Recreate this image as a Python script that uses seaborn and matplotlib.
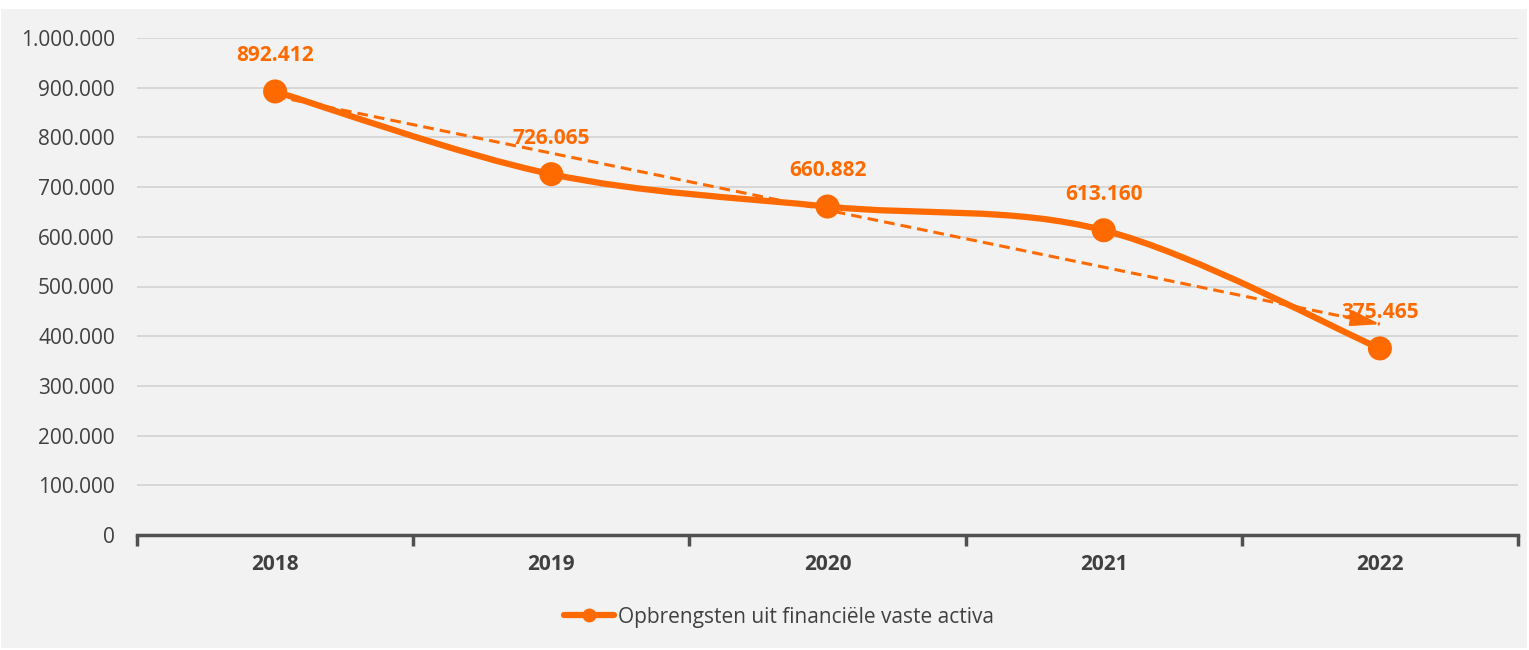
import numpy as np
import pandas as pd
import matplotlib
matplotlib.use("Agg")
import matplotlib.pyplot as plt
import seaborn as sns
from matplotlib.path import Path
from matplotlib.patches import PathPatch, Rectangle
from matplotlib.lines import Line2D
from matplotlib.ticker import FuncFormatter, FixedLocator

years = ["2018", "2019", "2020", "2021", "2022"]
values = [892412, 726065, 660882, 613160, 375465]
series_name = "Opbrengsten uit financiële vaste activa"
y_ticks = [0, 100000, 200000, 300000, 400000, 500000, 600000, 700000, 800000, 900000, 1000000]

ORANGE = "#FF6A00"
TEXT = "#404040"
GRID = "#D0D0D0"
BG = "#F2F2F2"

sns.set_theme(style="white")
plt.rcParams["font.family"] = ["Open Sans", "DejaVu Sans"]

W, H = 1529, 650
fig = plt.figure(figsize=(W / 100, H / 100), dpi=100, facecolor="white")
fig.patches.append(Rectangle((1 / W, 2 / H), (W - 3) / W, (H - 11) / H,
                             transform=fig.transFigure, facecolor=BG,
                             edgecolor="none", zorder=-10))
ax = fig.add_axes([137 / W, (H - 535) / H, (1518 - 137) / W, (535 - 38) / H])
ax.set_facecolor("none")

df = pd.DataFrame({"x": np.arange(len(years)), "y": values})

# smoothed line (Catmull-Rom as cubic Bezier path, in data coordinates)
xs = df["x"].to_numpy(dtype=float)
ys = df["y"].to_numpy(dtype=float)
verts = [(xs[0], ys[0])]
codes = [Path.MOVETO]
n = len(xs)
for i in range(n - 1):
    p0 = (xs[max(i - 1, 0)], ys[max(i - 1, 0)])
    p1 = (xs[i], ys[i])
    p2 = (xs[i + 1], ys[i + 1])
    p3 = (xs[min(i + 2, n - 1)], ys[min(i + 2, n - 1)])
    c1 = (p1[0] + (p2[0] - p0[0]) / 6, p1[1] + (p2[1] - p0[1]) / 6)
    c2 = (p2[0] - (p3[0] - p1[0]) / 6, p2[1] - (p3[1] - p1[1]) / 6)
    verts += [c1, c2, p2]
    codes += [Path.CURVE4] * 3
ax.add_patch(PathPatch(Path(verts, codes), facecolor="none", edgecolor=ORANGE,
                       lw=4.5, capstyle="round", joinstyle="round", zorder=3))

sns.scatterplot(data=df, x="x", y="y", ax=ax, color=ORANGE, s=300,
                edgecolor="none", zorder=4, legend=False)

# linear trendline with arrow
slope, intercept = np.polyfit(xs, ys, 1)
tx = np.array([xs[0], xs[-1]])
ty = slope * tx + intercept
ax.plot(tx, ty, color=ORANGE, lw=2.2, ls=(0, (3.5, 2)), zorder=2)
ax.annotate("", xy=(tx[1], ty[1]), xytext=(tx[1] - 0.12, ty[1] - slope * 0.12),
            arrowprops=dict(arrowstyle="-|>,head_length=0.8,head_width=0.22",
                            color=ORANGE, lw=1.8,
                            mutation_scale=22, shrinkA=0, shrinkB=0), zorder=2)

for x, y in zip(xs, ys):
    ax.annotate(f"{int(y):,}".replace(",", "."), (x, y), xytext=(0, 36),
                textcoords="offset pixels", ha="center", va="center",
                color=ORANGE, fontsize=15, fontweight="bold", zorder=5)

ax.set_xlim(-0.5, len(years) - 0.5)
ax.set_ylim(0, 1000000)
ax.yaxis.set_major_locator(FixedLocator(y_ticks))
ax.yaxis.set_major_formatter(FuncFormatter(lambda v, p: f"{int(v):,}".replace(",", ".")))
ax.grid(axis="y", color=GRID, lw=1.1)
ax.set_axisbelow(True)

ax.set_xticks(xs)
ax.set_xticklabels(years, fontweight="bold")
ax.set_xticks(np.arange(-0.5, len(years)), minor=True)
ax.tick_params(axis="x", which="major", bottom=False, length=0, pad=14,
               labelsize=15, labelcolor=TEXT)
ax.tick_params(axis="x", which="minor", bottom=True, length=8, width=2.5,
               color="#505050", direction="out")
ax.tick_params(axis="y", length=0, pad=16, labelsize=15, labelcolor=TEXT)
ax.set_xlabel("")
ax.set_ylabel("")
for s in ["top", "right", "left"]:
    ax.spines[s].set_visible(False)
ax.spines["bottom"].set_color("#505050")
ax.spines["bottom"].set_linewidth(2.5)

handle = Line2D([], [], color=ORANGE, lw=4.5, marker="o", markersize=9)
fig.legend([handle], [series_name], loc="center", bbox_to_anchor=(0.5095, (H - 617) / H),
           frameon=False, fontsize=15, handlelength=2.4, handletextpad=0.15,
           labelcolor=TEXT)

fig.savefig("out.png", dpi=100, facecolor="white")
